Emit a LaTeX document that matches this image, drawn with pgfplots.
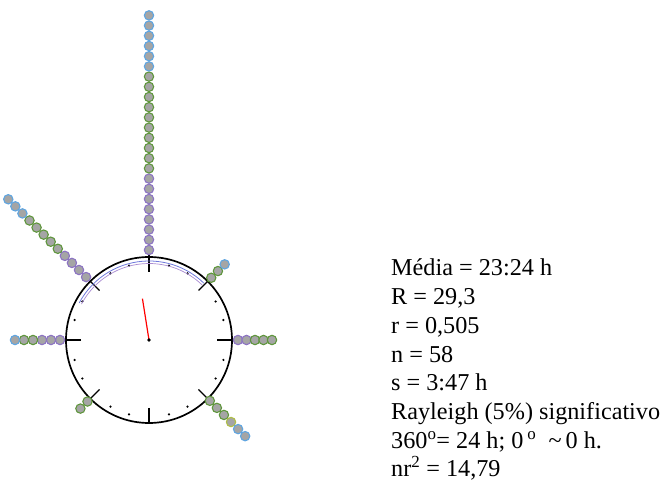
\documentclass[border=0pt]{standalone}
\usepackage{fontspec}
\setmainfont{Liberation Serif}
\usepackage{pgfplots}
\pgfplotsset{compat=1.18}

\definecolor{dotfill}{RGB}{165,165,165}
\definecolor{ringP}{RGB}{140,115,195}
\definecolor{ringG}{RGB}{95,150,60}
\definecolor{ringB}{RGB}{95,165,225}
\definecolor{ringY}{RGB}{175,190,70}
\definecolor{arcB}{RGB}{110,120,220}
\definecolor{arcP}{RGB}{170,140,210}

% stacked observations: angle (deg, math convention) and radius (1 unit = 1bp)
\pgfplotstableread{
a r
90 90
90 100.2
90 110.4
90 120.6
90 130.8
90 141
90 151.2
90 161.4
135 89
135 99
135 109
135 119
180 89
180 98
180 107
0 89
0 97.5
}\dotsP
\pgfplotstableread{
a r
90 171.6
90 181.8
90 192
90 202.2
90 212.4
90 222.6
90 232.8
90 243
90 253.2
90 263.4
135 129
135 139
135 149
135 159
135 169
180 116
180 125
0 106
0 114.5
0 123
45 88
45 97.5
-45 86
-45 96
-45 106
225 87
225 97
}\dotsG
\pgfplotstableread{
a r
-45 116
}\dotsY
\pgfplotstableread{
a r
90 273.6
90 283.8
90 294
90 304.2
90 314.4
90 324.6
135 179
135 189
135 199
180 134
45 107
-45 126
-45 136
}\dotsB

\begin{document}
\begin{tikzpicture}
\begin{axis}[
  width=661bp, height=484bp, scale only axis,
  xmin=-149, xmax=512, ymin=-144, ymax=340,
  hide axis, clip=false,
]
\path (axis cs:-149,-144) rectangle (axis cs:512,340);

% dial, centred on the axis origin
\begin{scope}[shift={(axis cs:0,0)}]
\draw[line width=1.7pt] (0:0bp) circle[radius=83bp];
\draw[line width=1.6pt] (90:68bp) -- (90:90bp);
\pgfplotsinvokeforeach{0,180,270}{
  \draw[line width=1.6pt] (#1:68bp) -- (#1:83bp);
}
\pgfplotsinvokeforeach{45,135,225,315}{
  \draw[line width=1.3pt] (#1:70bp) -- (#1:90bp);
}
\pgfplotsinvokeforeach{15,30,60,75,105,120,150,165,195,210,240,255,285,300,330,345}{
  \fill (#1:77bp) circle[radius=1.2bp];
}
% confidence arcs around the mean
\draw[arcB, line width=0.8pt] (46:79bp) arc[start angle=46, end angle=152, radius=79bp];
\draw[arcP, line width=0.7pt] (46:76.5bp) arc[start angle=46, end angle=152, radius=76.5bp];
\end{scope}

% observations
\addplot[only marks, mark=*, mark size=4.7pt, data cs=polar,
  mark options={fill=dotfill, draw=ringP, line width=1.1pt}] table[x=a, y=r] {\dotsP};
\addplot[only marks, mark=*, mark size=4.7pt, data cs=polar,
  mark options={fill=dotfill, draw=ringG, line width=1.1pt}] table[x=a, y=r] {\dotsG};
\addplot[only marks, mark=*, mark size=4.7pt, data cs=polar,
  mark options={fill=dotfill, draw=ringY, line width=1.1pt}] table[x=a, y=r] {\dotsY};
\addplot[only marks, mark=*, mark size=4.7pt, data cs=polar,
  mark options={fill=dotfill, draw=ringB, line width=1.1pt}] table[x=a, y=r] {\dotsB};

% mean vector: 23:24 h = 351 deg, r = 0.505
\addplot[red, line width=1.2pt, data cs=polar] coordinates {(99,0) (99,41.9)};
\fill (axis cs:0,0) circle[radius=1.8bp];

% statistics
\begin{scope}[every node/.style={anchor=base west, inner sep=0pt, font=\fontsize{24.3}{28}\selectfont}]
\node at (axis cs:242,64)     {Média = 23:24 h};
\node at (axis cs:242,35.3)   {R = 29,3};
\node at (axis cs:242,6.6)    {r = 0,505};
\node at (axis cs:242,-22.1)  {n = 58};
\node at (axis cs:242,-50.8)  {s = 3:47 h};
\node at (axis cs:242,-79.5)  {Rayleigh (5\%) significativo};
\node at (axis cs:242,-108.2) {360\textsuperscript{o}= 24 h; 0\,\textsuperscript{o}\ \ \textasciitilde\,0 h.};
\node at (axis cs:242,-136.9) {nr\textsuperscript{2} = 14,79};
\end{scope}
\end{axis}
\end{tikzpicture}
\end{document}
